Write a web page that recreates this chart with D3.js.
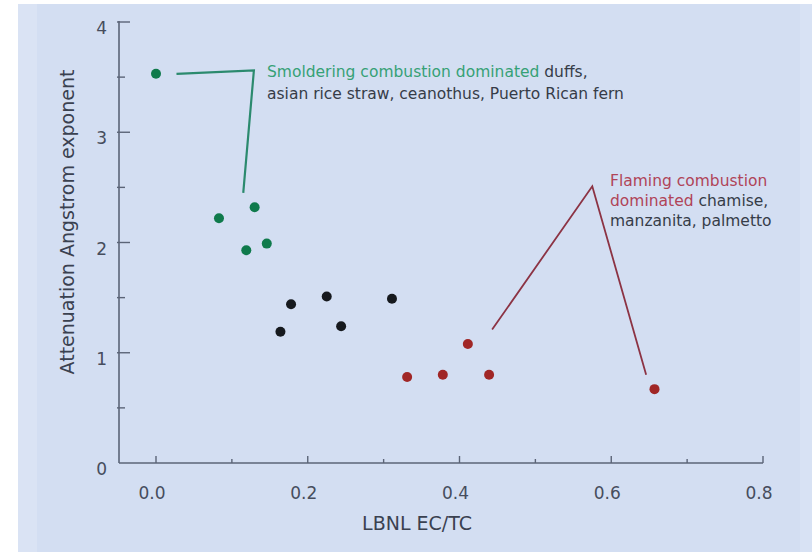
<!DOCTYPE html>
<html lang="en">
<head>
<meta charset="utf-8">
<title>Attenuation Angstrom exponent vs LBNL EC/TC</title>
<script src="https://d3js.org/d3.v7.min.js"></script>
<style>
  body { margin: 0; background: #fff; }
  svg { display: block; font-family: "DejaVu Sans", sans-serif; }
  .tick-label { font-size: 17px; fill: #464d5d; }
  .axis-title { font-size: 19px; fill: #3a4150; }
  .note { font-size: 15.5px; fill: #363c48; }
</style>
</head>
<body>
<svg width="812" height="552"></svg>
<script>
  // data: [EC/TC, angstrom exponent]
  var smoldering = [[0.0, 3.53], [0.083, 2.22], [0.13, 2.32], [0.119, 1.93], [0.146, 1.99]];
  var mixed = [[0.164, 1.19], [0.178, 1.44], [0.225, 1.51], [0.244, 1.24], [0.311, 1.49]];
  var flaming = [[0.331, 0.78], [0.378, 0.80], [0.439, 0.80], [0.411, 1.08], [0.657, 0.67]];

  var xTicks = [0, 0.2, 0.4, 0.6, 0.8];
  var xMinor = [0.1, 0.3, 0.5, 0.7];
  var yTicks = [0, 1, 2, 3, 4];
  var yMinor = [0.5, 1.5, 2.5, 3.5];

  // leader lines, in data units
  var greenLeader = [[0.027, 3.53], [0.129, 3.56], [0.115, 2.45]];
  var redLeader = [[0.443, 1.21], [0.575, 2.51], [0.646, 0.80]];

  var svg = d3.select("svg");
  var bg = "#d3def2";
  var green = "#36a176", red = "#b04458";

  svg.append("rect").attr("x", 18).attr("y", 4).attr("width", 794).attr("height", 548).attr("fill", bg);
  svg.append("rect").attr("x", 18).attr("y", 4).attr("width", 19).attr("height", 548).attr("fill", "#dae3f4");
  svg.append("rect").attr("x", 800).attr("y", 4).attr("width", 12).attr("height", 548).attr("fill", "#d8e2f4");

  var x = d3.scaleLinear().domain([0, 0.8]).range([156, 763]);
  var y = d3.scaleLinear().domain([0, 4]).range([463, 22]);
  var axisX = 119;
  var axisColor = "#5b6477";

  // axes lines
  svg.append("line").attr("x1", axisX).attr("x2", axisX).attr("y1", y(0)).attr("y2", y(4) - 1)
    .attr("stroke", axisColor).attr("stroke-width", 1.6);
  svg.append("line").attr("x1", axisX).attr("x2", x(0.8)).attr("y1", y(0)).attr("y2", y(0))
    .attr("stroke", axisColor).attr("stroke-width", 1.6);

  // x ticks (pointing up)
  svg.selectAll(".xt").data(xTicks).enter().append("line")
    .attr("x1", d => x(d)).attr("x2", d => x(d)).attr("y1", y(0)).attr("y2", y(0) - 7)
    .attr("stroke", axisColor).attr("stroke-width", 1.4);
  svg.selectAll(".xm").data(xMinor).enter().append("line")
    .attr("x1", d => x(d)).attr("x2", d => x(d)).attr("y1", y(0)).attr("y2", y(0) - 4)
    .attr("stroke", axisColor).attr("stroke-width", 1.4);
  svg.selectAll(".xl").data(xTicks).enter().append("text")
    .attr("class", "tick-label")
    .attr("x", d => x(d) - 4).attr("y", 499)
    .attr("text-anchor", "middle")
    .text(d => d3.format(".1f")(d));

  // y ticks (pointing right)
  svg.selectAll(".yt").data(yTicks.slice(1)).enter().append("line")
    .attr("x1", axisX - 2).attr("x2", axisX + 11).attr("y1", d => y(d)).attr("y2", d => y(d))
    .attr("stroke", axisColor).attr("stroke-width", 1.4);
  svg.selectAll(".ym").data(yMinor).enter().append("line")
    .attr("x1", axisX - 2).attr("x2", axisX + 6).attr("y1", d => y(d)).attr("y2", d => y(d))
    .attr("stroke", axisColor).attr("stroke-width", 1.4);
  svg.selectAll(".yl").data(yTicks).enter().append("text")
    .attr("class", "tick-label")
    .attr("x", 107).attr("y", d => y(d) + 12)
    .attr("text-anchor", "end")
    .text(d => d);

  // axis titles
  svg.append("text").attr("class", "axis-title")
    .attr("x", 417).attr("y", 530).attr("text-anchor", "middle")
    .text("LBNL EC/TC");
  svg.append("text").attr("class", "axis-title")
    .attr("transform", "translate(74,222) rotate(-90)")
    .attr("text-anchor", "middle")
    .text("Attenuation Angstrom exponent");

  // leader lines
  var line = d3.line().x(d => x(d[0])).y(d => y(d[1]));
  svg.append("path").attr("d", line(greenLeader)).attr("fill", "none")
    .attr("stroke", "#2b8a6e").attr("stroke-width", 2.2).attr("stroke-linejoin", "miter");
  svg.append("path").attr("d", line(redLeader)).attr("fill", "none")
    .attr("stroke", "#8c3344").attr("stroke-width", 1.8).attr("stroke-linejoin", "miter");

  // points
  function dots(data, color) {
    svg.append("g").selectAll("circle").data(data).enter().append("circle")
      .attr("cx", d => x(d[0])).attr("cy", d => y(d[1])).attr("r", 5)
      .attr("fill", color);
  }
  dots(smoldering, "#0f7a4c");
  dots(mixed, "#16191e");
  dots(flaming, "#a02626");

  // annotations
  var g1 = svg.append("text").attr("class", "note").attr("x", 267).attr("y", 77);
  g1.append("tspan").style("fill", green).text("Smoldering combustion dominated ");
  g1.append("tspan").text("duffs,");
  svg.append("text").attr("class", "note").attr("x", 267).attr("y", 99)
    .text("asian rice straw, ceanothus, Puerto Rican fern");

  svg.append("text").attr("class", "note").attr("x", 610).attr("y", 186)
    .style("fill", red).text("Flaming combustion");
  var r2 = svg.append("text").attr("class", "note").attr("x", 610).attr("y", 206);
  r2.append("tspan").style("fill", red).text("dominated ");
  r2.append("tspan").text("chamise,");
  svg.append("text").attr("class", "note").attr("x", 610).attr("y", 226)
    .text("manzanita, palmetto");
</script>
</body>
</html>
